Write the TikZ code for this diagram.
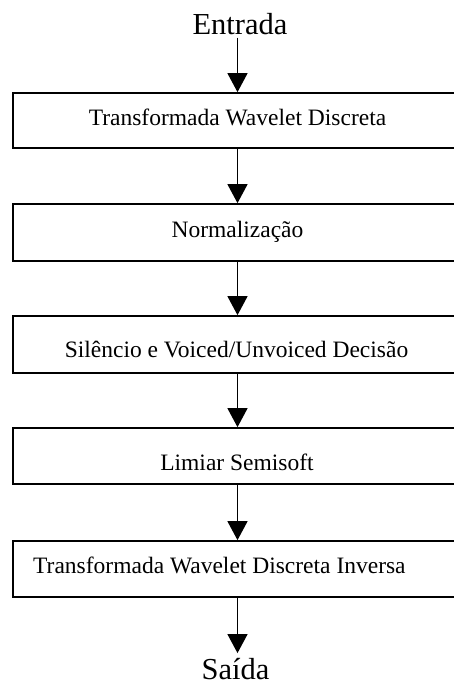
\documentclass[tikz,border=0pt]{standalone}
\usepackage{fontspec}
\setmainfont{Liberation Serif}
\usetikzlibrary{arrows.meta}
\begin{document}
\begin{tikzpicture}[x=1pt,y=-1pt,
  box/.style={draw=black, line width=1.7pt, minimum width=449pt, inner sep=0pt},
  lbl/.style={font=\fontsize{23.5}{28}\selectfont, inner sep=0pt, anchor=base},
  ttl/.style={font=\fontsize{30.5}{36}\selectfont, inner sep=0pt, anchor=base},
  arr/.style={line width=1.3pt, -{Triangle[length=19pt,width=20pt]}}]
\useasboundingbox (0,0) rectangle (454,686);
\clip (0,0) rectangle (454,686);
% boxes
\node[box, minimum height=55pt] (b1) at (237.5,120.5) {};
\node[box, minimum height=57pt] (b2) at (237.5,232.5) {};
\node[box, minimum height=57pt] (b3) at (237.5,344.5) {};
\node[box, minimum height=56pt] (b4) at (237.5,456) {};
\node[box, minimum height=56pt] (b5) at (237.5,569) {};
% labels
\node[lbl] (t1) at (237.5,125) {Transformada Wavelet Discreta};
\node[lbl] (t2) at (237.5,237) {Normalização};
\node[lbl] (t3) at (236.5,357) {Silêncio e Voiced/Unvoiced Decisão};
\node[lbl] (t4) at (237,470) {Limiar Semisoft};
\node[lbl, anchor=base west] (t5) at (33,573) {Transformada Wavelet Discreta Inversa};
% input / output
\node[ttl] (ent) at (240,34) {Entrada};
\node[ttl] (sai) at (235.5,679.5) {Saída};
% connectors
\draw[arr, shorten <=3pt] (b1.north |- ent.south) -- (b1.north);
\draw[arr] (b1.south) -- (b2.north);
\draw[arr] (b2.south) -- (b3.north);
\draw[arr] (b3.south) -- (b4.north);
\draw[arr] (b4.south) -- (b5.north);
\draw[arr, shorten >=5pt] (b5.south) -- (b5.south |- sai.north);
\end{tikzpicture}
\end{document}
